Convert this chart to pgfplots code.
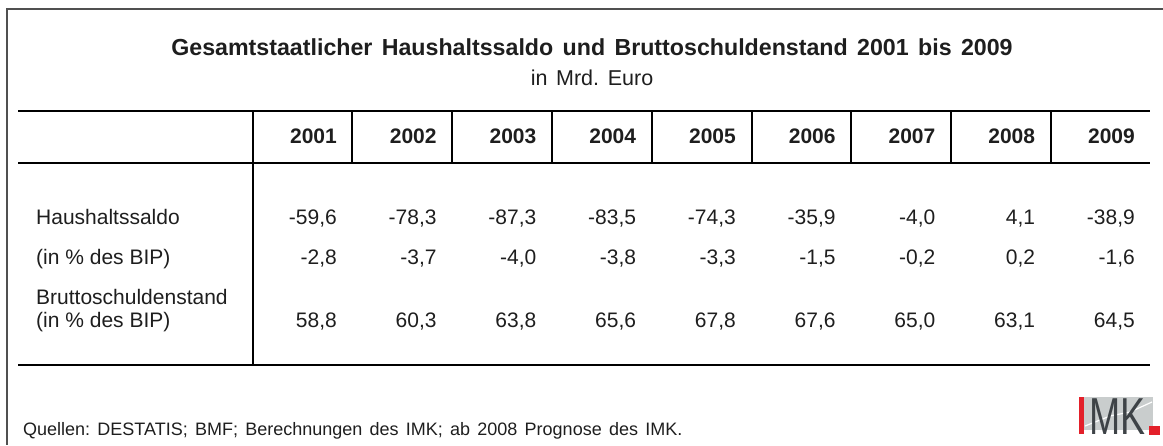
\documentclass[border=0pt]{standalone}
\usepackage{fontspec}
\setmainfont{Liberation Sans}
\newfontfamily\widefont[WordSpace=1.9]{Liberation Sans}
\newfontfamily\titlefont[WordSpace=1.6]{Liberation Sans}
\newfontfamily\srcfont[WordSpace=1.45]{Liberation Sans}
\usepackage{pgfplots}
\pgfplotsset{compat=1.18}
\usepackage{pgfplotstable}
\definecolor{txt}{HTML}{1E1E1E}
\definecolor{frame}{HTML}{505050}
\definecolor{imkred}{HTML}{E3202A}
\definecolor{imkgray}{HTML}{C9CDCD}
\definecolor{imkdark}{HTML}{3E4347}

\pgfplotstableread{
year saldo pct debt
2001 -59.6 -2.8 58.8
2002 -78.3 -3.7 60.3
2003 -87.3 -4.0 63.8
2004 -83.5 -3.8 65.6
2005 -74.3 -3.3 67.8
2006 -35.9 -1.5 67.6
2007 -4.0 -0.2 65.0
2008 4.1 0.2 63.1
2009 -38.9 -1.6 64.5
}\datatable

\pgfplotstableread{
x y1 y2
253 111 365
352 111 163
452 111 163
552 111 163
652 111 163
752 111 163
851 111 163
951 111 163
1051 111 163
}\vlines

\newcommand\bodyfont{\fontsize{21}{25}\selectfont}

\begin{document}
\frenchspacing
\begin{tikzpicture}
\begin{axis}[
  scale only axis, width=1163pt, height=445pt,
  xmin=0, xmax=1163, ymin=0, ymax=445, y dir=reverse,
  hide axis, clip=false,
  /pgf/number format/use comma,
  /pgf/number format/fixed,
  /pgf/number format/fixed zerofill,
  /pgf/number format/precision=1,
  /pgf/number format/assume math mode=true,
  every node near coord/.append style={inner sep=0pt, text=txt, font=\bodyfont},
  nodes near coords align={anchor=base east},
]
\coordinate (bbA) at (axis cs:0,0);
\coordinate (bbB) at (axis cs:1163,445);
% frame
\addplot[frame, line width=1.6pt, mark=none] coordinates {(1163,9) (7,9) (7,445)};
% horizontal rules
\addplot[black, line width=2pt, mark=none] coordinates {(18,111) (1150,111)};
\addplot[black, line width=2pt, mark=none] coordinates {(18,163) (1150,163)};
\addplot[black, line width=2pt, mark=none] coordinates {(18,365) (1150,365)};
% vertical rules
\pgfplotsinvokeforeach{0,...,8}{
  \pgfplotstablegetelem{#1}{x}\of\vlines \edef\vx{\pgfplotsretval}
  \pgfplotstablegetelem{#1}{y2}\of\vlines \edef\vy{\pgfplotsretval}
  \addplot[black, line width=2pt, mark=none] coordinates {(\vx,111) (\vx,\vy)};
}
% header years
\addplot[only marks, mark=none, nodes near coords, point meta=explicit symbolic,
  every node near coord/.append style={font=\bodyfont\bfseries}]
  table[x expr={337+(\thisrow{year}-2001)*99.75}, y expr=143, meta=year] {\datatable};
% rows
\addplot[only marks, mark=none, nodes near coords, point meta=explicit]
  table[x expr={337+(\thisrow{year}-2001)*99.75}, y expr=224, meta=saldo] {\datatable};
\addplot[only marks, mark=none, nodes near coords, point meta=explicit]
  table[x expr={337+(\thisrow{year}-2001)*99.75}, y expr=264, meta=pct] {\datatable};
\addplot[only marks, mark=none, nodes near coords, point meta=explicit]
  table[x expr={337+(\thisrow{year}-2001)*99.75}, y expr=327, meta=debt] {\datatable};
% titles
\node[anchor=base, text=txt, inner sep=0pt, font=\titlefont\fontsize{23.2}{27}\selectfont\bfseries] at (axis cs:592,55)
  {Gesamtstaatlicher Haushaltssaldo und Bruttoschuldenstand 2001 bis 2009};
\node[anchor=base, text=txt, inner sep=0pt, font=\widefont\fontsize{21.5}{25}\selectfont] at (axis cs:592,85) {in Mrd. Euro};
% row labels
\node[anchor=base west, text=txt, font=\bodyfont, inner sep=0pt] at (axis cs:36,224) {Haushaltssaldo};
\node[anchor=base west, text=txt, font=\bodyfont, inner sep=0pt] at (axis cs:36,264) {(in \% des BIP)};
\node[anchor=base west, text=txt, font=\bodyfont, inner sep=0pt] at (axis cs:36,304) {Bruttoschuldenstand};
\node[anchor=base west, text=txt, font=\bodyfont, inner sep=0pt] at (axis cs:36,327) {(in \% des BIP)};
% source
\node[anchor=base west, text=txt, font=\srcfont\fontsize{18}{21}\selectfont, inner sep=0pt] at (axis cs:23,435)
  {Quellen: DESTATIS; BMF; Berechnungen des IMK; ab 2008 Prognose des IMK.};
% logo
\fill[imkgray] (axis cs:1084,397) rectangle (axis cs:1153,430);
\draw[white, line width=1.2pt] (axis cs:1085,426) -- (axis cs:1110,416) -- (axis cs:1130,412) -- (axis cs:1152,402);
\node[anchor=base west, inner sep=0pt, xscale=0.72, text=imkdark, font=\fontsize{52}{52}\selectfont] at (axis cs:1089,434) {MK};
\fill[imkred] (axis cs:1079,397) rectangle (axis cs:1084,434);
\fill[imkred] (axis cs:1149,426) rectangle (axis cs:1160,435);
\end{axis}
\pgfresetboundingbox
\useasboundingbox (bbA) rectangle (bbB);
\end{tikzpicture}
\end{document}
